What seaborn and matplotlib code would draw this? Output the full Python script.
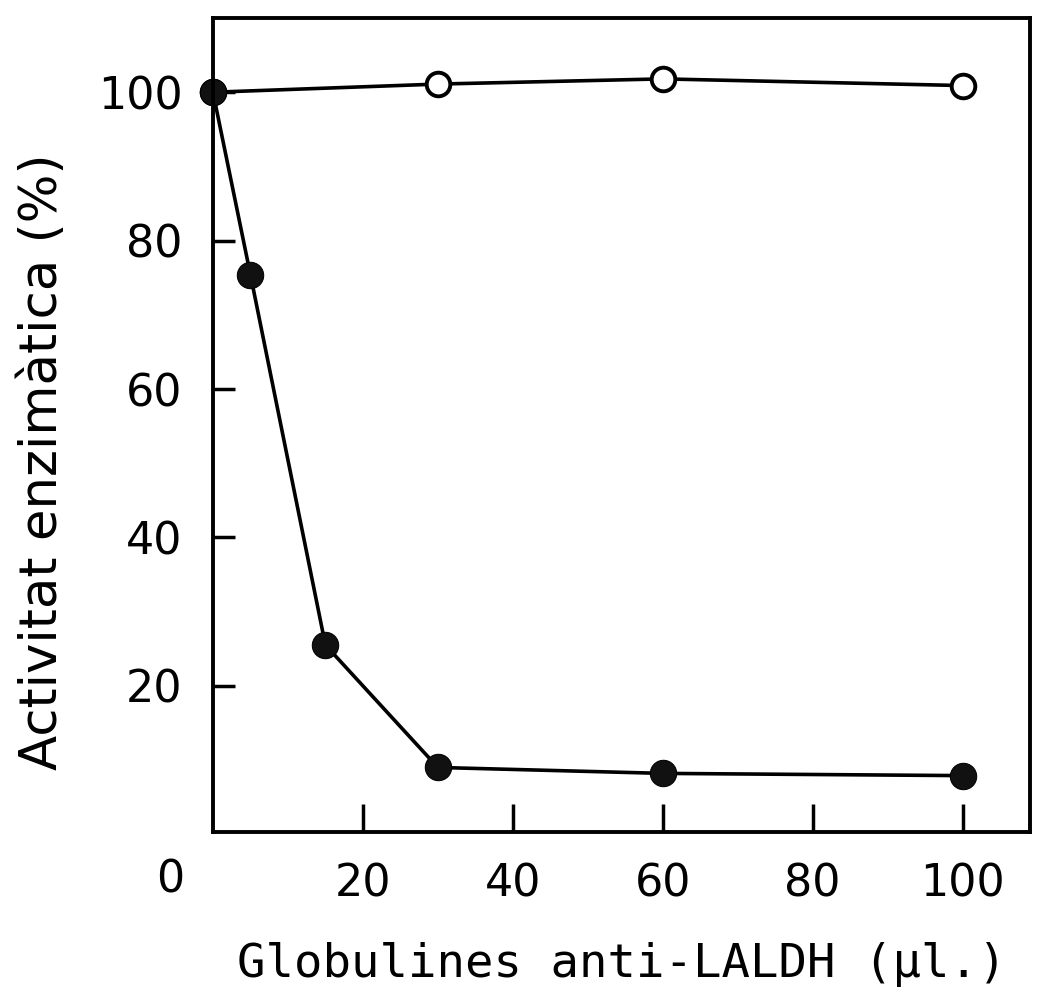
import numpy as np
import pandas as pd
import seaborn as sns
from matplotlib import pyplot as plt
from matplotlib import transforms

# dades llegides del grafic
globulines_control = [0, 30, 60, 100]
activitat_control = [100, 101.1, 101.8, 100.9]

globulines_anti = [0, 5, 15, 30, 60, 100]
activitat_anti = [100, 75.4, 25.5, 9.0, 8.2, 7.9]

x_ticks = [20, 40, 60, 80, 100]
y_ticks = [20, 40, 60, 80, 100]

sns.set_theme(style='ticks')
plt.rcParams['font.family'] = ['DejaVu Sans']
plt.rcParams['text.color'] = 'black'
plt.rcParams['axes.labelcolor'] = 'black'

fig = plt.figure(figsize=(10.47, 10.08), dpi=100)
ax = fig.add_axes([0.2034, 0.1746, 0.7804, 0.8075])

control = pd.DataFrame({'x': globulines_control, 'y': activitat_control})
anti = pd.DataFrame({'x': globulines_anti, 'y': activitat_anti})

sns.lineplot(data=control, x='x', y='y', ax=ax, color='black', lw=2.6,
             marker='o', markersize=17, markerfacecolor='white',
             markeredgecolor='black', markeredgewidth=2.8, clip_on=False)
sns.lineplot(data=anti, x='x', y='y', ax=ax, color='black', lw=2.6,
             marker='o', markersize=19, markerfacecolor='#111111',
             markeredgecolor='black', clip_on=False)

ax.set_xlim(0, 109)
ax.set_ylim(0.3, 110)

ax.set_xticks(x_ticks)
ax.set_xticklabels([str(t) for t in x_ticks], fontsize=32)
ax.set_yticks(y_ticks)
ax.set_yticklabels([str(t) for t in y_ticks], fontsize=32)
ax.tick_params(axis='x', direction='in', length=20, width=2.5, pad=22, colors='black')
ax.tick_params(axis='y', direction='in', length=16, width=2.5, pad=22, colors='black')

# l'origen "0" desplacat a l'esquerra
trans = transforms.blended_transform_factory(ax.transData, ax.transAxes)
ax.text(-5.7, -0.032, '0', transform=trans, fontsize=32, ha='center', va='top')

for s in ax.spines.values():
    s.set_linewidth(2.8)
    s.set_color('black')

ax.set_xlabel('Globulines anti-LALDH (\u03bcl.)', fontsize=34,
              family=['DejaVu Sans Mono'], labelpad=26)
ax.set_ylabel('Activitat enzimàtica (%)', fontsize=37)
ax.yaxis.set_label_coords(-0.178, 0.455)

plt.savefig('out.png', dpi=100, facecolor='white')
